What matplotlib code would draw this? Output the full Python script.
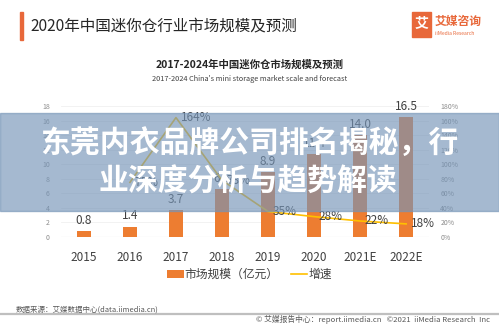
import numpy as np
import matplotlib
matplotlib.use("Agg")
import matplotlib.pyplot as plt
from matplotlib.patches import Rectangle

plt.rcParams['font.family'] = ['Noto Sans CJK SC', 'DejaVu Sans']

years = ["2015", "2016", "2017", "2018", "2019", "2020", "2021E", "2022E"]
scale = [0.8, 1.4, 3.7, 6.6, 8.9, 11.4, 14.0, 16.5]          # 亿元
growth_years = ["2016", "2017", "2018", "2019", "2020", "2021E", "2022E"]
growth = [75, 164, 78, 35, 28, 22, 18]                        # %
left_ticks = list(range(0, 20, 2))
right_ticks = list(range(0, 200, 20))

orange = "#ED7D31"
yellow = "#FFC000"
grey = "#8C8C8C"

fig = plt.figure(figsize=(4.99, 3.24), dpi=100)

# header
fig.patches.append(Rectangle((0.040, 0.877), 0.007, 0.087, transform=fig.transFigure,
                             color="#E8683A", zorder=1))
fig.text(0.060, 0.920, "2020年中国迷你仓行业市场规模及预测", fontsize=11.2,
         color="#262626", va="center", ha="left")
fig.patches.append(Rectangle((0.826, 0.886), 0.037, 0.078, transform=fig.transFigure,
                             color="#E8683A", zorder=1))
fig.text(0.8445, 0.925, "艾", fontsize=10, color="white", weight="bold",
         ha="center", va="center")
fig.text(0.872, 0.933, "艾媒咨询", fontsize=8.5, color="#E8683A", weight="bold",
         ha="left", va="center")
fig.text(0.872, 0.897, "iiMedia Research", fontsize=3.6, color="#E8683A",
         ha="left", va="center")

# chart titles
fig.text(0.5, 0.802, "2017-2024年中国迷你仓市场规模及预测", fontsize=7.5,
         weight="bold", color="#262626", ha="center", va="center")
fig.text(0.5, 0.756, "2017-2024 China's mini storage market scale and forecast",
         fontsize=5.3, color="#404040", ha="center", va="center")

ax = fig.add_axes([0.122, 0.2685, 0.738, 0.4045])
x = np.arange(len(years))
bars = ax.bar(x, scale, width=0.32, color=orange, zorder=2, label="市场规模（亿元）")
for xi, v in zip(x, scale):
    ax.text(xi, v + 0.6, f"{v:.1f}", ha="center", va="bottom", fontsize=8.5,
            color="#404040")
ax.set_xlim(-0.5, len(years) - 0.5)
ax.set_ylim(0, 18)
ax.set_yticks(left_ticks)
ax.set_xticks(x)
ax.set_xticklabels(years, fontsize=8.5, color="#404040")
ax.tick_params(axis="y", labelsize=5, colors=grey, length=0, pad=8)
ax.tick_params(axis="x", length=0, pad=10)
ax.grid(axis="y", color="#F0F0F0", lw=0.6, zorder=0)
for s in ax.spines.values():
    s.set_visible(False)
ax.axhline(0, color="#D9D9D9", lw=0.8, zorder=1)

ax2 = ax.twinx()
gx = [years.index(g) for g in growth_years]
line, = ax2.plot(gx, growth, color=yellow, lw=1.2, zorder=3, label="增速")
for xi, v in zip(gx, growth):
    ax2.text(xi + 0.1, v, f"{v}%", ha="left", va="center", fontsize=8.5,
             color="#404040")
ax2.set_ylim(0, 180)
ax2.set_yticks(right_ticks)
ax2.set_yticklabels([f"{t}%" for t in right_ticks])
ax2.tick_params(axis="y", labelsize=5, colors=grey, length=0, pad=8)
for s in ax2.spines.values():
    s.set_visible(False)

fig.legend(handles=[bars, line], labels=["市场规模（亿元）", "增速"],
           loc="center", bbox_to_anchor=(0.5, 0.152), ncol=2, frameon=False,
           fontsize=8.5, handlelength=1.4, handletextpad=0.1, columnspacing=1.0,
           labelcolor="#404040")

# footer
fig.text(0.032, 0.046, "数据来源：艾媒数据中心(data.iimedia.cn)", fontsize=5.4,
         color="#595959", ha="left", va="center")
fig.add_artist(plt.Line2D([0, 1], [0.032, 0.032], transform=fig.transFigure,
                          color="#BFBFBF", lw=1.6))
fig.text(0.982, 0.015, "© 艾媒报告中心：report.iimedia.cn   ©2021  iiMedia Research  Inc",
         fontsize=5.6, color="#595959", ha="right", va="center")

# banner across the chart
fig.patches.append(Rectangle((0, 0.349), 1, 0.302, transform=fig.transFigure,
                             color="#7594B7", alpha=0.65, zorder=10))
fig.text(0.5, 0.555, "东莞内衣品牌公司排名揭秘，行", fontsize=21.5, weight="bold",
         color="white", ha="center", va="center", zorder=11)
fig.text(0.497, 0.441, "业深度分析与趋势解读", fontsize=21.5, weight="bold",
         color="white", ha="center", va="center", zorder=11)

fig.savefig("out.png", dpi=100)
